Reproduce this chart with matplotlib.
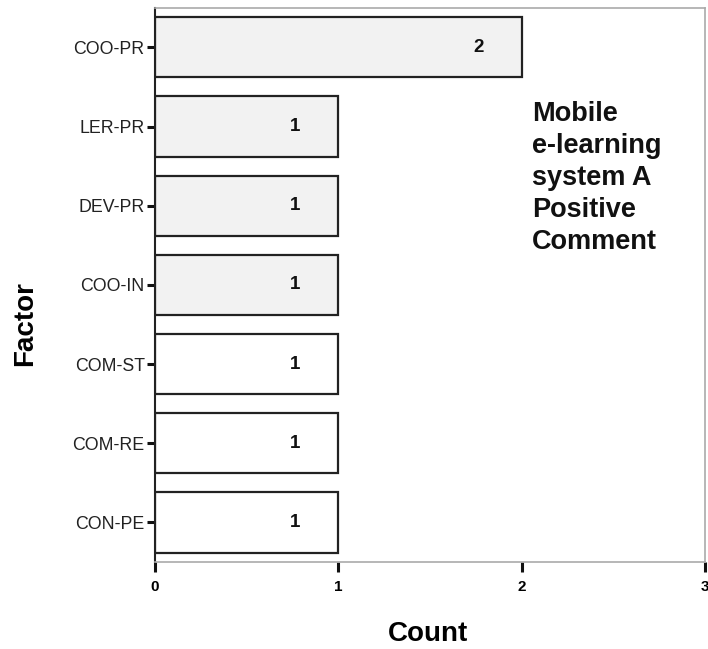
import matplotlib
matplotlib.use('Agg')
import matplotlib.pyplot as plt

# Data (top to bottom)
factors = ['COO-PR', 'LER-PR', 'DEV-PR', 'COO-IN', 'COM-ST', 'COM-RE', 'CON-PE']
counts = [2, 1, 1, 1, 1, 1, 1]
fills = ['#f2f2f2', '#f2f2f2', '#f2f2f2', '#f2f2f2', 'white', 'white', 'white']
x_ticks = [0, 1, 2, 3]

plt.rcParams['font.family'] = ['Liberation Sans', 'DejaVu Sans']

fig = plt.figure(figsize=(7.08, 6.49), dpi=100)
ax = fig.add_axes([0.219, 0.134, 0.777, 0.854])

ypos = list(range(len(factors)))[::-1]
ax.barh(ypos, counts, height=0.76, color=fills, edgecolor='#222222', linewidth=1.6)

for y, c in zip(ypos, counts):
    ax.text(c - 0.235, y, str(c), ha='center', va='center',
            fontsize=13.5, fontweight='bold', color='#111111')

ax.set_xlim(0, 3)
ax.set_ylim(-0.5, len(factors) - 0.5)
ax.set_yticks(ypos)
ax.set_yticklabels(factors, fontsize=12.8, color='#222222')
ax.set_xticks(x_ticks)
ax.set_xticklabels([str(t) for t in x_ticks], fontsize=11, fontweight='bold')
ax.tick_params(axis='y', length=6, width=2.2, color='#111111', pad=1.5)
ax.tick_params(axis='x', length=7, width=2.2, color='#111111', pad=6)

for side in ['top', 'right', 'bottom']:
    ax.spines[side].set_color('#aaaaaa')
    ax.spines[side].set_linewidth(1.2)
ax.spines['left'].set_color('#222222')
ax.spines['left'].set_linewidth(1.5)

ax.set_xlabel('Count', fontsize=20, fontweight='bold')
ax.set_ylabel('Factor', fontsize=20, fontweight='bold')
ax.xaxis.set_label_coords(0.496, -0.107)
ax.yaxis.set_label_coords(-0.212, 0.43)

ax.text(2.057, 5.32, 'Mobile\ne-learning\nsystem A\nPositive\nComment',
        ha='left', va='top', fontsize=19.5, fontweight='bold',
        linespacing=1.30, color='#111111')

plt.savefig('out.png', dpi=100)
